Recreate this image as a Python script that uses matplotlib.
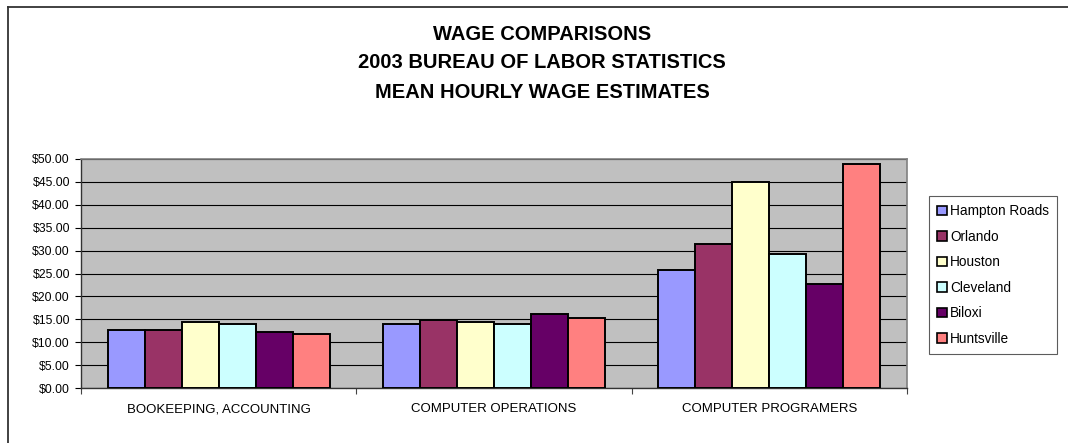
import matplotlib
matplotlib.use("Agg")
import numpy as np
import matplotlib.pyplot as plt
from matplotlib.lines import Line2D
from matplotlib.patches import Patch
from matplotlib.ticker import FuncFormatter, MultipleLocator

plt.rcParams["font.family"] = ["Liberation Sans", "DejaVu Sans"]

categories = ["BOOKEEPING, ACCOUNTING", "COMPUTER OPERATIONS", "COMPUTER PROGRAMERS"]
cities = ["Hampton Roads", "Orlando", "Houston", "Cleveland", "Biloxi", "Huntsville"]
hampton_roads = [12.75, 14.00, 25.75]
orlando = [12.75, 14.85, 31.45]
houston = [14.40, 14.40, 44.90]
cleveland = [14.05, 14.00, 29.25]
biloxi = [12.25, 16.15, 22.70]
huntsville = [11.85, 15.30, 48.85]
colors = ["#9999FF", "#993366", "#FFFFCC", "#CCFFFF", "#660066", "#FF8080"]

series = [hampton_roads, orlando, houston, cleveland, biloxi, huntsville]

W, H = 1068, 443
fig = plt.figure(figsize=(W / 100, H / 100), dpi=100)
ax = fig.add_axes([81 / W, 1 - 388 / H, (907 - 81) / W, (388 - 159) / H])
ax.set_facecolor("#C0C0C0")

group = 0.807
bw = group / len(series)
x = np.arange(len(categories))
for j, (vals, c, name) in enumerate(zip(series, colors, cities)):
    ax.bar(x + (1 - group) / 2 + bw * (j + 0.5), vals, width=bw, color=c,
           edgecolor="black", linewidth=1.4, label=name, zorder=3)

ax.set_xlim(0, 3)
ax.set_ylim(0, 50)
ax.yaxis.set_major_locator(MultipleLocator(5))
ax.yaxis.set_major_formatter(FuncFormatter(lambda v, p: f"${v:.2f}"))
ax.grid(axis="y", color="black", linewidth=0.8, zorder=1)
ax.set_xticks([0, 1, 2, 3])
ax.set_xticklabels([])
ax.set_xticks(x + 0.5, minor=True)
ax.set_xticklabels(categories, minor=True, fontsize=9.5)
ax.tick_params(axis="x", which="minor", length=0, pad=11)
ax.tick_params(axis="x", which="major", length=4, width=0.8, direction="out", color="#444444")
ax.tick_params(axis="y", length=4, width=0.8, labelsize=8.8, pad=4)
for s in ("top", "right"):
    ax.spines[s].set_color("#808080")
    ax.spines[s].set_linewidth(1.2)
for s in ("left", "bottom"):
    ax.spines[s].set_color("#333333")
    ax.spines[s].set_linewidth(1.0)

handles = [Patch(facecolor=c, edgecolor="black", linewidth=1.2, label=n)
           for c, n in zip(colors, cities)]
leg = fig.legend(handles=handles, loc="upper left",
                 bbox_to_anchor=(929 / W, 1 - 196 / H), fontsize=9.8,
                 frameon=True, fancybox=False, edgecolor="#333333",
                 handlelength=0.7, handleheight=0.7, handletextpad=0.25,
                 labelspacing=0.85, borderpad=0.6, borderaxespad=0)
leg.get_frame().set_linewidth(0.8)

titles = ["WAGE COMPARISONS", "2003 BUREAU OF LABOR STATISTICS", "MEAN HOURLY WAGE ESTIMATES"]
for t, yy in zip(titles, [35, 63, 93]):
    fig.text(542 / W, 1 - yy / H, t, ha="center", va="center",
             fontsize=14.5, fontweight="bold")

fig.add_artist(Line2D([8 / W, 1], [1 - 7 / H, 1 - 7 / H], color="#333333", linewidth=1.3))
fig.add_artist(Line2D([8 / W, 8 / W], [0, 1 - 7 / H], color="#333333", linewidth=1.3))

fig.savefig("out.png", dpi=100)
